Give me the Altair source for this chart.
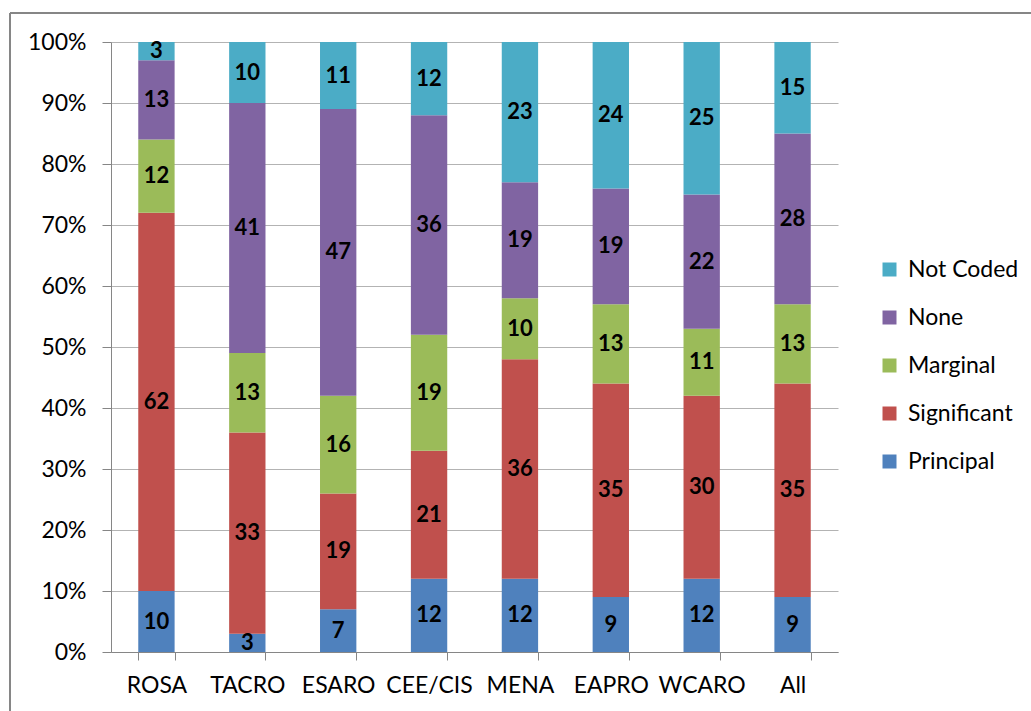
import altair as alt
import pandas as pd

regions = ["ROSA", "TACRO", "ESARO", "CEE/CIS", "MENA", "EAPRO", "WCARO", "All"]
principal = [10, 3, 7, 12, 12, 9, 12, 9]
significant = [62, 33, 19, 21, 36, 35, 30, 35]
marginal = [12, 13, 16, 19, 10, 13, 11, 13]
none_vals = [13, 41, 47, 36, 19, 19, 22, 28]
not_coded = [3, 10, 11, 12, 23, 24, 25, 15]

series_names = ["Principal", "Significant", "Marginal", "None", "Not Coded"]
series_values = [principal, significant, marginal, none_vals, not_coded]
colors = ["#4F81BD", "#C0504D", "#9BBB59", "#8064A2", "#4BACC6"]
y_ticks = [0, 10, 20, 30, 40, 50, 60, 70, 80, 90, 100]

rows = []
for si, (name, vals) in enumerate(zip(series_names, series_values)):
    for r, v in zip(regions, vals):
        rows.append({"Region": r, "Series": name, "Value": v, "ord": si})
df = pd.DataFrame(rows)

FONT = "Lato"
W, H = 727, 610

legend_order = list(reversed(series_names))
legend_colors = list(reversed(colors))

x_enc = alt.X("Region:N", sort=regions,
              scale=alt.Scale(paddingInner=0.6, paddingOuter=0.3),
              axis=alt.Axis(title=None, labelAngle=0, tickBand="extent",
                            labelFontSize=23, labelFont=FONT, labelColor="#000000",
                            tickSize=8, labelPadding=14, domainColor="#868686",
                            tickColor="#868686", grid=False))

base = alt.Chart(df)

bars = base.mark_bar().encode(
    x=x_enc,
    y=alt.Y("Value:Q", stack="zero",
            scale=alt.Scale(domain=[0, 100], nice=False),
            axis=alt.Axis(title=None, values=y_ticks, labelExpr="datum.value + '%'",
                          labelFontSize=23, labelFont=FONT, labelColor="#000000",
                          tickSize=9, labelPadding=16, grid=True, gridColor="#b3b3b3",
                          domainColor="#868686", tickColor="#868686")),
    color=alt.Color("Series:N",
                    scale=alt.Scale(domain=legend_order, range=legend_colors),
                    legend=alt.Legend(title=None, orient="none", legendX=767, legendY=216,
                                      symbolType="square", symbolSize=196,
                                      symbolStrokeWidth=0, labelFontSize=23,
                                      labelFont=FONT, labelColor="#000000",
                                      rowPadding=24, labelOffset=7)),
    order=alt.Order("ord:Q", sort="ascending"),
)

text = base.transform_stack(
    stack="Value", groupby=["Region"], sort=[alt.SortField("ord", order="ascending")],
    as_=["y0", "y1"]
).transform_calculate(mid="(datum.y0 + datum.y1) / 2").mark_text(
    fontSize=22, fontWeight="bold", font=FONT, color="#000000", baseline="middle"
).encode(
    x=alt.X("Region:N", sort=regions),
    y=alt.Y("mid:Q"),
    text=alt.Text("Value:Q"),
)

frame_top = alt.Chart(pd.DataFrame({"a": [0]})).mark_rule(color="#868686", strokeWidth=2).encode(
    x=alt.value(-101), x2=alt.value(1000), y=alt.value(-29))
frame_left = alt.Chart(pd.DataFrame({"a": [0]})).mark_rule(color="#868686", strokeWidth=2).encode(
    x=alt.value(-101), y=alt.value(-29), y2=alt.value(700))

chart = alt.layer(bars, text, frame_top, frame_left).properties(
    width=W, height=H,
    autosize=alt.AutoSizeParams(type="none"),
    padding={"left": 111, "top": 42, "right": 193, "bottom": 59},
).configure_view(stroke=None)

chart.save("out.html", embed_options={"renderer": "svg", "actions": False})
